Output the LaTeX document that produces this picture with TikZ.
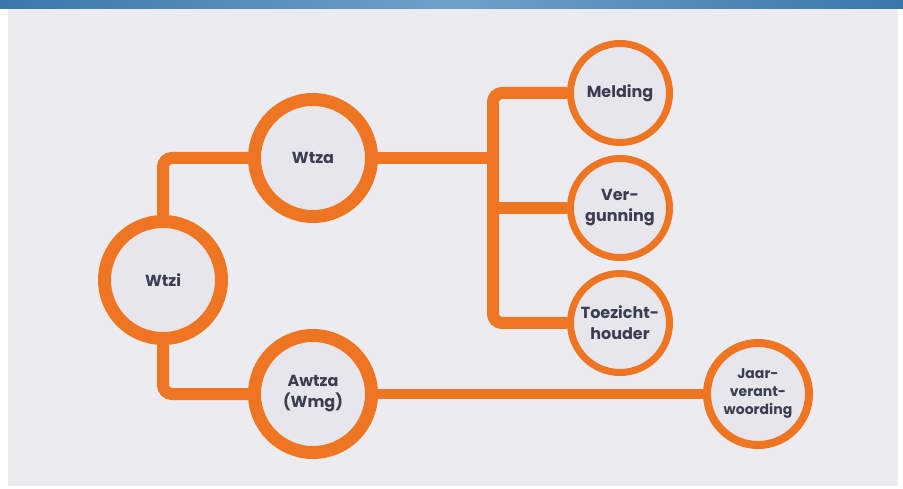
\documentclass[tikz,border=0pt]{standalone}
\usepackage{fontspec}
\setmainfont{Poppins}
\usetikzlibrary{positioning, backgrounds}
\definecolor{wtorange}{HTML}{EE7623}
\definecolor{wtpanel}{HTML}{EBEBF0}
\definecolor{wtfill}{HTML}{E6E6EC}
\definecolor{wttext}{HTML}{3B3E4F}
\definecolor{wtblue}{HTML}{3A78AC}
\definecolor{wtlight}{HTML}{6FA0C8}

\begin{document}
\begin{tikzpicture}[
      x=1pt, y=1pt,
      law/.style={circle, draw=wtorange, fill=wtfill, line width=13pt,
        minimum size=117pt, inner sep=0pt, align=center, text=wttext,
        font=\fontsize{16}{21}\selectfont\bfseries},
      sub/.style={law, line width=7pt, minimum size=99pt},
      link/.style={draw=wtorange, line width=12pt, rounded corners=9pt},
      ]

      \useasboundingbox (0,0) rectangle (903,488);

      \node[law] (wtzi)  at (163,208) {Wtzi};
      \node[law] (wtza)  at (313,330) {Wtza};
      \node[law] (awtza) at (313,94)  {Awtza\\(Wmg)};

      \node[sub] (melding)    at (620,395) {Melding};
      \node[sub] (vergunning) at (620,280) {Ver-\\gunning};
      \node[sub] (toezicht)   at (620,165) {Toezicht-\\houder};
      \node[sub, line width=8pt, minimum size=102pt,
        font=\fontsize{14}{18}\selectfont\bfseries] (jaar) at (758,94)
        {Jaar-\\verant-\\woording};

      \coordinate (split) at (493,330);

      \begin{scope}[on background layer]
        % panel and top band
        \fill[white] (0,0) rectangle (903,488);
        \fill[wtpanel] (8,2) rectangle (898,479);
        \shade[left color=wtblue, right color=wtblue, middle color=wtlight]
          (0,479) rectangle (903,488);

        \path[link] (wtzi) |- (wtza);
        \path[link] (wtzi) |- (awtza);
        \path[link] (wtza) -- (split);
        \path[link] (melding) -| (split) |- (toezicht);
        \path[link] (split |- vergunning) -- (vergunning);
        \path[link, line width=10pt] (awtza) -- (jaar);
      \end{scope}
    \end{tikzpicture}
\end{document}
